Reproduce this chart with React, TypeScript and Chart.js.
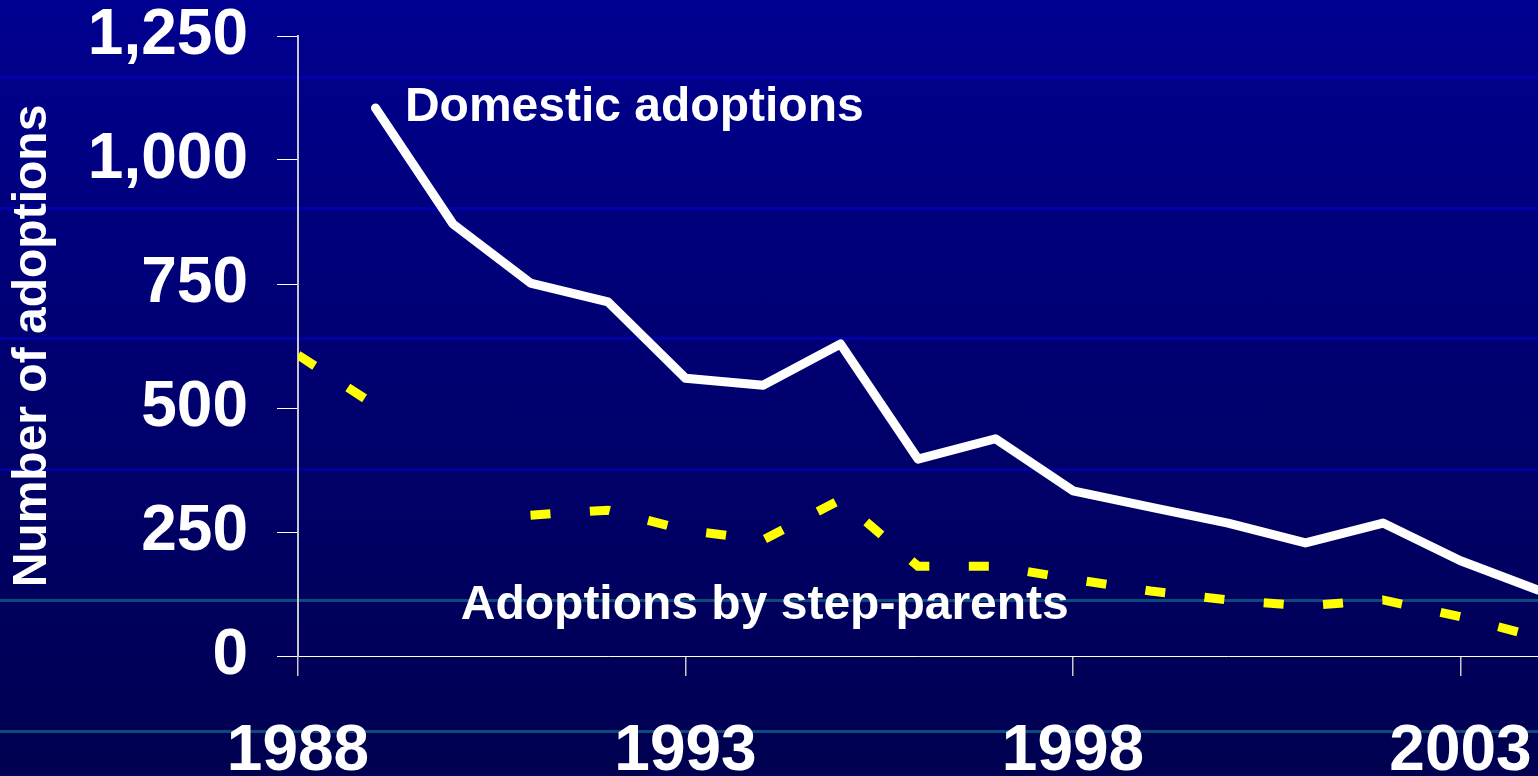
import React, { useEffect, useRef } from "react";
import { Chart, registerables } from "chart.js";

Chart.register(...registerables);

// ---- data ----
const years = [1988, 1989, 1990, 1991, 1992, 1993, 1994, 1995, 1996, 1997, 1998, 1999, 2000, 2001, 2002, 2003, 2004];
const domesticAdoptions = [null, 1105, 871, 752, 714, 560, 546, 629, 397, 438, 333, 300, 268, 228, 268, 192, 133];
const stepParentAdoptions = [607, 505, null, 284, 294, 254, 234, 315, 181, 181, 155, 131, 113, 101, 113, 79, 38];
const xTickYears = [1988, 1993, 1998, 2003];
const yTickValues = [0, 250, 500, 750, 1000, 1250];
const seriesNames = ["Domestic adoptions", "Adoptions by step-parents"];
const yAxisTitle = "Number of adoptions";

const FONT = "'Liberation Sans', Arial, Helvetica, sans-serif";

const hLine = (y: number, c: string, w: number) =>
  `linear-gradient(to bottom, transparent ${y}px, ${c} ${y}px, ${c} ${y + w}px, transparent ${y + w}px)`;

const background = [
  hLine(76, "#0000ac", 3),
  hLine(207, "#0000ac", 3),
  hLine(337, "#0000a6", 3),
  hLine(468, "#00009e", 3),
  hLine(599, "#0c4a7c", 3),
  hLine(730, "#0c4a7c", 3),
  "linear-gradient(to bottom, #000090 0px, #000076 300px, #000050 776px)",
].join(",");

const seriesLabelPlugin = {
  id: "seriesLabels",
  afterDatasetsDraw(chart: any) {
    const { ctx, scales } = chart;
    const xs = scales.x;
    const ys = scales.y;
    ctx.save();
    ctx.fillStyle = "#ffffff";
    ctx.font = `bold 48px ${FONT}`;
    ctx.textAlign = "left";
    ctx.textBaseline = "alphabetic";
    ctx.fillText(seriesNames[0], xs.getPixelForValue(1989.38), ys.getPixelForValue(1078));
    ctx.fillText(seriesNames[1], xs.getPixelForValue(1990.1), ys.getPixelForValue(75));
    ctx.restore();
  },
};

export default function App() {
  const canvasRef = useRef<HTMLCanvasElement | null>(null);

  useEffect(() => {
    if (!canvasRef.current) return;
    const chart = new Chart(canvasRef.current, {
      type: "line",
      data: {
        datasets: [
          {
            label: seriesNames[0],
            data: years.map((yr, i) => ({ x: yr, y: domesticAdoptions[i] })) as any,
            borderColor: "#ffffff",
            borderWidth: 9,
            borderCapStyle: "round",
            borderJoinStyle: "round",
            pointRadius: 0,
            fill: false,
            tension: 0,
            spanGaps: false,
          },
          {
            label: seriesNames[1],
            data: years.map((yr, i) => ({ x: yr, y: stepParentAdoptions[i] })) as any,
            borderColor: "#ffff00",
            borderWidth: 9,
            borderDash: [20, 39.5],
            borderCapStyle: "butt",
            borderJoinStyle: "miter",
            pointRadius: 0,
            fill: false,
            tension: 0,
            spanGaps: false,
          },
        ],
      },
      options: {
        animation: false,
        responsive: true,
        maintainAspectRatio: false,
        layout: { padding: { top: 36, right: 0, bottom: 0, left: 0 } },
        plugins: {
          legend: { display: false },
          tooltip: { enabled: false },
        },
        scales: {
          x: {
            type: "linear",
            min: 1988,
            max: 2004,
            afterBuildTicks: (s: any) => {
              s.ticks = xTickYears.map((v) => ({ value: v }));
            },
            afterFit: (s: any) => {
              s.height = 120;
              s.paddingLeft = 0;
              s.paddingRight = 0;
            },
            ticks: {
              color: "#ffffff",
              font: { family: FONT, size: 64, weight: "bold", lineHeight: 1 },
              padding: 44,
              maxRotation: 0,
              autoSkip: false,
              callback: (v: any) => String(v),
            },
            grid: {
              drawOnChartArea: false,
              drawTicks: true,
              tickLength: 20,
              color: "#c8c8c8",
              lineWidth: 1.5,
            },
            border: { display: true, color: "#ffffff", width: 1 },
          },
          y: {
            min: 0,
            max: 1250,
            afterBuildTicks: (s: any) => {
              s.ticks = yTickValues.map((v) => ({ value: v }));
            },
            afterFit: (s: any) => {
              s.width = 298;
              s.paddingTop = 0;
              s.paddingBottom = 0;
            },
            ticks: {
              color: "#ffffff",
              font: { family: FONT, size: 64, weight: "bold", lineHeight: 1 },
              padding: 29,
              callback: (v: any) => Number(v).toLocaleString("en-US"),
            },
            grid: {
              drawOnChartArea: false,
              drawTicks: true,
              tickLength: 21,
              color: "#ffffff",
              lineWidth: 1,
            },
            border: { display: true, color: "#c8c8c8", width: 2 },
            title: {
              display: true,
              text: yAxisTitle,
              color: "#ffffff",
              font: { family: FONT, size: 48, weight: "bold", lineHeight: 1.2 },
              padding: { top: 4, bottom: 0 },
            },
          },
        },
      },
      plugins: [seriesLabelPlugin],
    } as any);
    return () => chart.destroy();
  }, []);

  return (
    <div
      style={{
        position: "absolute",
        left: 0,
        top: 0,
        width: 1538,
        height: 776,
        background,
        overflow: "hidden",
      }}
    >
      <canvas ref={canvasRef} />
    </div>
  );
}
